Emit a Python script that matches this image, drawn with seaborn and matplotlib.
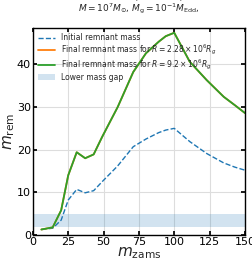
import numpy as np
import pandas as pd
import matplotlib
matplotlib.use("Agg")
import matplotlib.pyplot as plt
import seaborn as sns

# zams masses and remnant masses
m_zams = [6, 14, 20, 25, 31, 37, 43, 49, 60, 71, 80, 89, 94, 100, 111, 123, 135, 143, 150]
m_rem_initial = [1.3, 1.6, 3.5, 8.2, 10.7, 9.9, 10.4, 12.5, 16.2, 20.7, 22.5, 24.0, 24.6, 25.0,
                 21.9, 19.1, 16.9, 15.9, 15.2]
m_rem_final_r1 = [1.3, 1.8, 5.8, 14.0, 19.4, 18.0, 18.9, 23.0, 30.0, 38.2, 42.6, 45.3, 46.6, 47.4,
                  40.6, 36.3, 32.4, 30.4, 28.6]
m_rem_final_r2 = [1.3, 1.8, 5.8, 14.0, 19.4, 18.0, 18.9, 23.0, 30.0, 38.2, 42.6, 45.3, 46.6, 47.4,
                  40.6, 36.3, 32.4, 30.4, 28.6]
gap_low, gap_high = 2.0, 5.0

sns.set_theme(style="whitegrid")
plt.rcParams.update({
    'font.family': ['DejaVu Sans'],
    'axes.edgecolor': 'black',
    'axes.linewidth': 1.0,
    'grid.color': '#dddddd',
    'grid.linewidth': 0.8,
    'xtick.direction': 'in',
    'ytick.direction': 'in',
    'xtick.top': True,
    'ytick.right': True,
    'xtick.bottom': True,
    'ytick.left': True,
    'xtick.major.size': 3,
    'ytick.major.size': 3,
    'xtick.color': 'black',
    'ytick.color': 'black',
    'xtick.labelsize': 8,
    'ytick.labelsize': 8,
})

df = pd.DataFrame({"m_zams": m_zams, "initial": m_rem_initial,
                   "r1": m_rem_final_r1, "r2": m_rem_final_r2})

fig = plt.figure(figsize=(2.53, 2.60), dpi=100)
ax = fig.add_axes([0.130, 0.096, 0.838, 0.796])

sns.lineplot(data=df, x="m_zams", y="initial", ax=ax, color="#1f77b4", linestyle="--",
             linewidth=1.0, label="Initial remnant mass")
sns.lineplot(data=df, x="m_zams", y="r1", ax=ax, color="#ff7f0e", linewidth=1.3,
             label=r"Final remnant mass for $R = 2.28\times10^6 R_g$")
sns.lineplot(data=df, x="m_zams", y="r2", ax=ax, color="#2ca02c", linewidth=1.3,
             label=r"Final remnant mass for $R = 9.2\times10^6 R_g$")
ax.axhspan(gap_low, gap_high, color="#1f77b4", alpha=0.2, linewidth=0, label="Lower mass gap")

ax.set_xlim(0, 150)
ax.set_ylim(0, 48.5)
ax.set_xticks([0, 25, 50, 75, 100, 125, 150])
ax.set_yticks([0, 10, 20, 30, 40])
ax.tick_params(axis='both', which='major', pad=1.5)
ax.set_xlabel(r"$m_{\rm zams}$", fontsize=11, labelpad=-1)
ax.set_ylabel(r"$m_{\rm rem}$", fontsize=11, labelpad=0)
ax.set_title(r"$M = 10^7 M_{\odot}$, $\dot{M}_{\rm g} = 10^{-1}\dot{M}_{\rm Edd}$,",
             fontsize=6.5, pad=12)

ax.legend(loc="upper left", fontsize=5.5, frameon=False, handlelength=2.2,
          labelspacing=0.05, borderaxespad=0.3)

fig.savefig("out.png", dpi=100)
